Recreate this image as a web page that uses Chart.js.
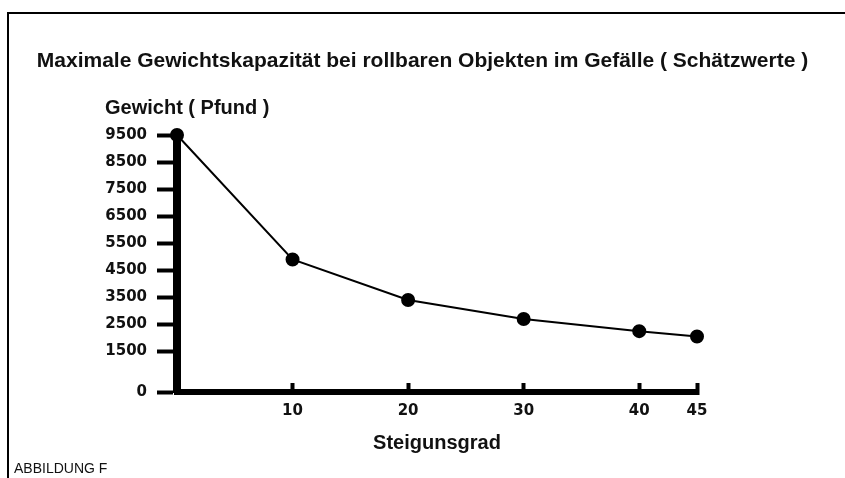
<!DOCTYPE html>
<html>
<head>
<meta charset="utf-8">
<script src="https://cdn.jsdelivr.net/npm/chart.js@4/dist/chart.umd.min.js"></script>
<style>
  html, body { margin: 0; padding: 0; background: #fff; }
  #wrap { position: relative; width: 845px; height: 478px; overflow: hidden; }
  #frame { position: absolute; left: 7px; top: 12px; width: 900px; height: 500px;
           border-top: 2px solid #000; border-left: 2px solid #000; pointer-events: none; }
</style>
</head>
<body>
<div id="wrap">
  <canvas id="chart" width="845" height="478"></canvas>
  <div id="frame"></div>
</div>
<script>
// Steigungsgrad (degrees) vs. max weight (pounds)
const grades = [0, 10, 20, 30, 40, 45]
const weights = [9500, 4900, 3400, 2700, 2250, 2050]

const xTicks = [10, 20, 30, 40, 45]
const yTicks = [0, 1500, 2500, 3500, 4500, 5500, 6500, 7500, 8500, 9500]

const chartTitle = 'Maximale Gewichtskapazität bei rollbaren Objekten im Gefälle ( Schätzwerte )'
const yTitle = 'Gewicht ( Pfund )'
const xTitle = 'Steigunsgrad'
const footnote = 'ABBILDUNG F'

const tickFont = { family: 'DejaVu Sans', size: 15, weight: 'bold' }

// texts outside the axes: main title, y caption above the axis, figure label
const extraText = {
    id: 'extraText',
    afterDraw(chart) {
        const ctx = chart.ctx
        const area = chart.chartArea
        ctx.save()
        ctx.fillStyle = '#111'
        ctx.textBaseline = 'middle'
        ctx.textAlign = 'center'
        ctx.font = 'bold 21px "Liberation Sans", Arial, sans-serif'
        ctx.fillText(chartTitle, chart.width / 2, 61)
        ctx.textAlign = 'left'
        ctx.font = 'bold 20px "Liberation Sans", Arial, sans-serif'
        ctx.fillText(yTitle, area.left - 72, area.top - 27)
        ctx.font = '14px "Liberation Sans", Arial, sans-serif'
        ctx.fillText(footnote, 14, 469)
        ctx.restore()
    }
}

const ctx = document.getElementById('chart').getContext('2d')
const myChart = new Chart(ctx, {
    type: 'line',
    data: {
        datasets: [{
            label: yTitle,
            data: grades.map((g, i) => ({ x: g, y: weights[i] })),
            borderColor: '#000',
            backgroundColor: '#000',
            borderWidth: 2,
            pointRadius: 6,
            pointHoverRadius: 6,
            tension: 0,
            fill: false,
            clip: false
        }]
    },
    options: {
        responsive: false,
        animation: false,
        layout: {
            padding: { left: 105, right: 148, top: 135, bottom: 23 }
        },
        plugins: {
            legend: { display: false },
            tooltip: { enabled: false },
            title: { display: false }
        },
        scales: {
            x: {
                type: 'linear',
                min: 0,
                max: 45,
                afterBuildTicks: scale => { scale.ticks = xTicks.map(v => ({ value: v })) },
                afterFit: scale => { scale.height = 63 },
                border: { display: true, color: '#000', width: 6 },
                grid: { drawOnChartArea: false, drawTicks: true, tickLength: -9, tickWidth: 4, color: '#000', tickColor: '#000' },
                ticks: { color: '#111', font: tickFont, padding: 19, maxRotation: 0, callback: v => String(v) },
                title: {
                    display: true,
                    text: xTitle,
                    color: '#111',
                    font: { family: 'Liberation Sans', size: 20, weight: 'bold' },
                    padding: { top: 0, bottom: 0 }
                }
            },
            y: {
                type: 'linear',
                min: 0,
                max: 9500,
                afterBuildTicks: scale => { scale.ticks = yTicks.map(v => ({ value: v })) },
                afterFit: scale => { scale.width = 72 },
                border: { display: true, color: '#000', width: 8 },
                grid: { drawOnChartArea: false, drawTicks: true, tickLength: 20, tickWidth: 4, color: '#000', tickColor: '#000' },
                ticks: { color: '#111', font: tickFont, padding: 10, callback: v => String(v) }
            }
        }
    },
    plugins: [extraText]
})
</script>
</body>
</html>
